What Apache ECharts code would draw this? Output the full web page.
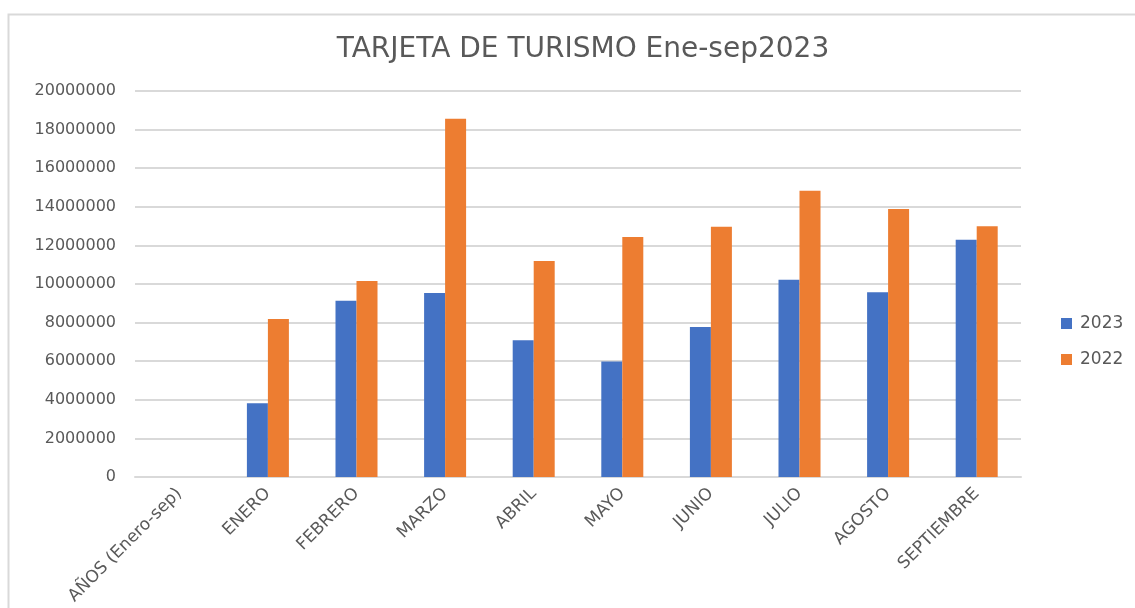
<!DOCTYPE html>
<html>
<head>
<meta charset="utf-8">
<script src="https://cdn.jsdelivr.net/npm/echarts@6/dist/echarts.min.js"></script>
<style>
  html, body { margin: 0; padding: 0; background: #fff; }
  #main { width: 1135px; height: 608px; }
</style>
</head>
<body>
<div id="main"></div>
<script>
// datos
var meses = ['AÑOS (Enero-sep)', 'ENERO', 'FEBRERO', 'MARZO', 'ABRIL', 'MAYO', 'JUNIO', 'JULIO', 'AGOSTO', 'SEPTIEMBRE'];
var datos2023 = [null, 3820000, 9130000, 9540000, 7080000, 5990000, 7770000, 10220000, 9570000, 12290000];
var datos2022 = [null, 8190000, 10150000, 18560000, 11190000, 12430000, 12960000, 14830000, 13890000, 12990000];

var chart = echarts.init(document.getElementById('main'));
var fuente = '"DejaVu Sans", "Open Sans", sans-serif';

option = {
    animation: false,
    textStyle: { fontFamily: fuente },
    // marco gris del grafico
    graphic: [{
        type: 'rect',
        shape: { x: 8.5, y: 14.5, width: 1200, height: 700 },
        style: { fill: 'none', stroke: '#d9d9d9', lineWidth: 2 },
        silent: true
    }],
    title: {
        text: 'TARJETA DE TURISMO Ene-sep2023',
        left: 578,
        textAlign: 'center',
        top: 31,
        textStyle: { fontSize: 28, fontWeight: 'normal', color: '#595959', fontFamily: fuente }
    },
    legend: {
        orient: 'vertical',
        left: 1061,
        top: 315,
        padding: 0,
        itemWidth: 11,
        itemHeight: 11,
        itemGap: 19,
        icon: 'rect',
        data: ['2023', '2022'],
        textStyle: { fontSize: 17, color: '#595959', fontFamily: fuente, padding: [0, 0, 0, 3] }
    },
    grid: { left: 135, right: 114, top: 91, bottom: 131, containLabel: false },
    xAxis: {
        type: 'category',
        data: meses,
        axisLine: { lineStyle: { color: '#d9d9d9', width: 2 } },
        axisTick: { show: false },
        axisLabel: {
            rotate: 45,
            interval: 0,
            fontSize: 17,
            color: '#595959',
            margin: 14,
            fontFamily: fuente
        }
    },
    yAxis: {
        type: 'value',
        min: 0,
        max: 20000000,
        interval: 2000000,
        axisLine: { show: false },
        axisTick: { show: false },
        splitLine: { lineStyle: { color: '#d9d9d9', width: 2 } },
        axisLabel: {
            fontSize: 16,
            color: '#595959',
            margin: 19,
            fontFamily: fuente,
            formatter: function (v) { return String(v); }
        }
    },
    series: [{
        name: '2023',
        type: 'bar',
        data: datos2023,
        barWidth: 21,
        barGap: '0%',
        itemStyle: { color: '#4472c4' }
    }, {
        name: '2022',
        type: 'bar',
        data: datos2022,
        barWidth: 21,
        itemStyle: { color: '#ed7d31' }
    }]
};
chart.setOption(option);
</script>
</body>
</html>
